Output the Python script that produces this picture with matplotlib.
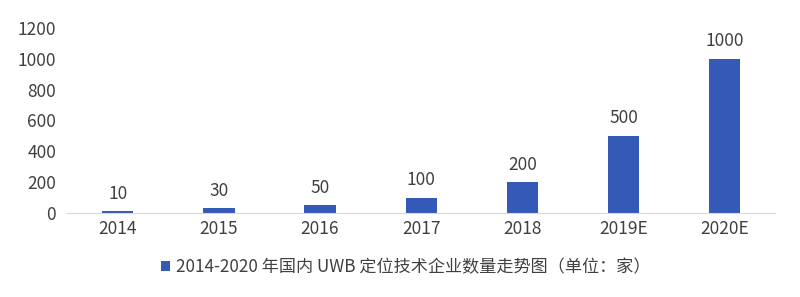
import matplotlib
matplotlib.use('Agg')
import matplotlib.pyplot as plt

plt.rcParams['font.family'] = ['Noto Sans CJK SC', 'DejaVu Sans']

# data
years = ['2014', '2015', '2016', '2017', '2018', '2019E', '2020E']
counts = [10, 30, 50, 100, 200, 500, 1000]
legend_label = '2014-2020 年国内 UWB 定位技术企业数量走势图（单位：家）'

bar_color = '#3559B7'
text_color = '#404040'

fig = plt.figure(figsize=(8, 2.97), dpi=100)
ax = fig.add_axes([0.084, 0.283, 0.885, 0.623])

bars = ax.bar(years, counts, width=0.31, color=bar_color, label=legend_label)
for b, v in zip(bars, counts):
    ax.text(b.get_x() + b.get_width() / 2, v + 55, str(v), ha='center', va='bottom',
            fontsize=12.5, color=text_color)

ax.set_xlim(-0.5, len(years) - 0.5)
ax.set_ylim(0, 1200)
ax.set_yticks(range(0, 1201, 200))
for s in ['top', 'right', 'left']:
    ax.spines[s].set_visible(False)
ax.spines['bottom'].set_color('#D9D9D9')
ax.tick_params(axis='both', length=0, labelsize=12.5, labelcolor=text_color)
ax.tick_params(axis='y', pad=8)
ax.tick_params(axis='x', pad=5)

fig.legend(loc='center', bbox_to_anchor=(0.507, 0.1), frameon=False, fontsize=12.3,
           handlelength=0.55, handleheight=0.55, handletextpad=0.3, labelcolor=text_color)

fig.savefig('out.png', dpi=100)
